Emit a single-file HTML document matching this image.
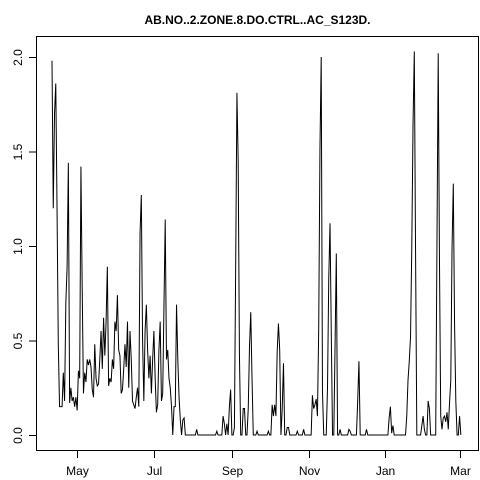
<!DOCTYPE html>
<html><head><meta charset="utf-8"><style>
html,body{margin:0;padding:0;background:#fff;}
svg{display:block;font-family:"Liberation Sans",Arial,sans-serif;}
</style></head><body>
<svg id="chart" width="480" height="480" viewBox="0 0 480 480" xmlns="http://www.w3.org/2000/svg">
<rect x="0" y="0" width="480" height="480" fill="#fff"/>
<text x="257.5" y="24" text-anchor="middle" font-size="12" font-weight="bold">AB.NO..2.ZONE.8.DO.CTRL..AC_S123D.</text>
<rect x="36.5" y="36.5" width="442" height="414" fill="none" stroke="#000" stroke-width="1"/>
<g id="yaxis"></g>
<g id="xaxis"></g>
<path id="line" fill="none" stroke="#000" stroke-width="1"/>
</svg>
<script>
const values = [
1.98,1.20,1.70,1.86,1.20,0.48,0.15,0.15,0.15,0.33,
0.18,0.70,0.89,1.44,0.17,0.25,0.18,0.20,0.15,0.20,
0.13,0.34,0.30,1.42,0.78,0.22,0.33,0.28,0.40,0.37,
0.40,0.36,0.24,0.20,0.48,0.30,0.26,0.27,0.40,0.55,
0.35,0.62,0.42,0.60,0.89,0.26,0.30,0.28,0.40,0.35,
0.60,0.55,0.74,0.45,0.42,0.22,0.24,0.35,0.48,0.36,
0.60,0.25,0.55,0.40,0.18,0.16,0.14,0.20,0.25,0.15,
1.07,1.27,0.50,0.18,0.55,0.69,0.45,0.30,0.42,0.22,
0.40,0.55,0.30,0.12,0.16,0.45,0.60,0.18,0.22,0.68,
1.14,0.40,0.45,0.30,0.25,0.15,0.00,0.15,0.15,0.69,
0.40,0.20,0.08,0.00,0.08,0.09,0,0,0,0,
0,0,0,0,0,0.03,0,0,0,0,
0,0,0,0,0,0,0,0,0,0,
0,0.02,0,0,0,0,0.10,0.06,0,0.06,
0,0.15,0.24,0,0,0.04,0.89,1.81,1.45,0.42,
0,0,0.14,0.14,0,0,0.14,0.47,0.65,0.30,
0,0,0,0.02,0,0,0,0,0,0,
0,0,0.02,0,0,0.16,0.10,0.16,0.10,0.44,
0.59,0.45,0,0.14,0.38,0,0,0.04,0.04,0,
0,0,0,0,0,0.02,0,0,0,0,
0.03,0,0,0,0,0,0,0.21,0.14,0.16,
0.19,0.10,0.56,1.51,2.00,0.23,0,0,0,0.25,
0.83,1.12,0.54,0,0,0.47,0.96,0,0,0.03,
0,0,0,0,0,0,0.03,0.02,0,0,
0,0,0,0.18,0.39,0,0,0,0,0,
0.03,0,0,0,0,0,0,0,0,0,
0,0,0,0,0,0,0,0,0.09,0.15,
0.01,0.05,0,0,0,0,0,0,0,0,
0,0,0.10,0.29,0.39,0.52,1.00,1.65,2.03,0.97,
0,0,0,0,0.05,0.10,0.03,0,0,0.18,
0.14,0,0,0,0,0,1.00,2.02,0.93,0.10,
0.03,0.09,0.10,0.07,0.12,0.03,0.17,0.29,0.99,1.33,
0.59,0.18,0,0,0.10,0
];
const yTicks = [0, 0.5, 1.0, 1.5, 2.0];
const yTickLabels = ["0.0", "0.5", "1.0", "1.5", "2.0"];
const xTickDays = [20, 81, 143, 204, 265, 324];
const xTickLabels = ["May", "Jul", "Sep", "Nov", "Jan", "Mar"];

const NS = "http://www.w3.org/2000/svg";
function xScale(d){ return 52 + d * 1.258; }
function yScale(v){ return 435 - v * 189; }

const line = document.getElementById('line');
let dstr = "";
values.forEach((v, i) => { dstr += (i ? "L" : "M") + xScale(i).toFixed(2) + "," + yScale(v).toFixed(2); });
line.setAttribute('d', dstr);

const ya = document.getElementById('yaxis');
yTicks.forEach((t, i) => {
  const y = yScale(t);
  const l = document.createElementNS(NS, 'line');
  l.setAttribute('x1', 29); l.setAttribute('x2', 36.5);
  l.setAttribute('y1', y + 0.5); l.setAttribute('y2', y + 0.5);
  l.setAttribute('stroke', '#000');
  
  
  ya.appendChild(l);
  const tx = document.createElementNS(NS, 'text');
  tx.setAttribute('x', 0); tx.setAttribute('y', 0);
  tx.setAttribute('transform', 'translate(22,' + (y + 0.5) + ') rotate(-90)');
  tx.setAttribute('text-anchor', 'middle');
  tx.setAttribute('font-size', '12');
  tx.textContent = yTickLabels[i];
  
  
  ya.appendChild(tx);
});

const xa = document.getElementById('xaxis');
xTickDays.forEach((d, i) => {
  const x = Math.round(xScale(d)) + 0.5;
  const l = document.createElementNS(NS, 'line');
  l.setAttribute('x1', x); l.setAttribute('x2', x);
  l.setAttribute('y1', 450.5); l.setAttribute('y2', 458);
  l.setAttribute('stroke', '#000');
  
  
  xa.appendChild(l);
  const tx = document.createElementNS(NS, 'text');
  tx.setAttribute('x', x); tx.setAttribute('y', 475);
  tx.setAttribute('text-anchor', 'middle');
  tx.setAttribute('font-size', '12');
  tx.textContent = xTickLabels[i];
  
  
  xa.appendChild(tx);
});
</script>
</body></html>
